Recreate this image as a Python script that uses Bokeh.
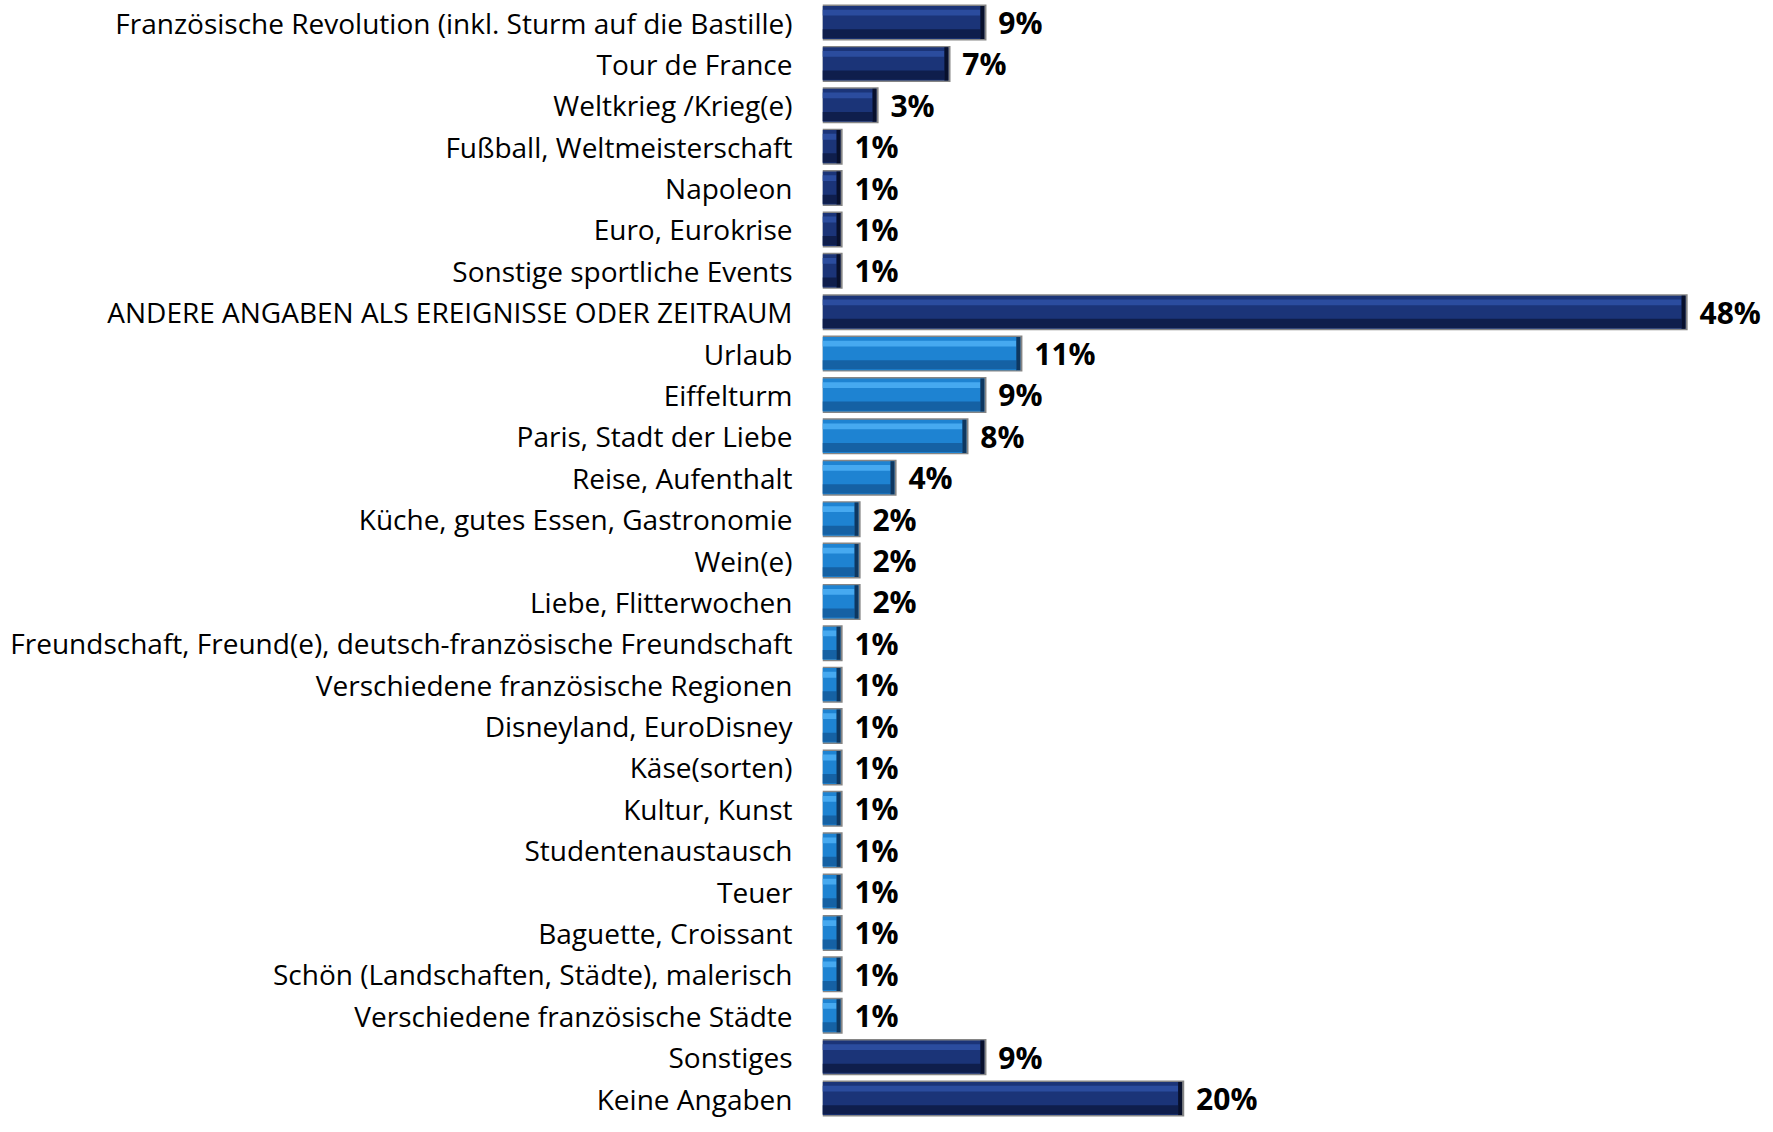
from bokeh.plotting import figure
from bokeh.models import FixedTicker, ColumnDataSource, Range1d, LabelSet
from bokeh.core.properties import value
from bokeh.embed import file_html
from bokeh.resources import INLINE

categories = [
    "Französische Revolution (inkl. Sturm auf die Bastille)",
    "Tour de France",
    "Weltkrieg /Krieg(e)",
    "Fußball, Weltmeisterschaft",
    "Napoleon",
    "Euro, Eurokrise",
    "Sonstige sportliche Events",
    "ANDERE ANGABEN ALS EREIGNISSE ODER ZEITRAUM",
    "Urlaub",
    "Eiffelturm",
    "Paris, Stadt der Liebe",
    "Reise, Aufenthalt",
    "Küche, gutes Essen, Gastronomie",
    "Wein(e)",
    "Liebe, Flitterwochen",
    "Freundschaft, Freund(e), deutsch-französische Freundschaft",
    "Verschiedene französische Regionen",
    "Disneyland, EuroDisney",
    "Käse(sorten)",
    "Kultur, Kunst",
    "Studentenaustausch",
    "Teuer",
    "Baguette, Croissant",
    "Schön (Landschaften, Städte), malerisch",
    "Verschiedene französische Städte",
    "Sonstiges",
    "Keine Angaben",
]
values = [9, 7, 3, 1, 1, 1, 1, 48, 11, 9, 8, 4, 2, 2, 2, 1, 1, 1, 1, 1, 1, 1, 1, 1, 1, 9, 20]
groups = ["dark"] * 8 + ["light"] * 17 + ["dark"] * 2

n = len(categories)
ys = [n - 1 - i for i in range(n)]

palette = {
    "dark": dict(main="#1B3478", hi="#2B4C9E", lo="#0F1E4C", cap="#08102C"),
    "light": dict(main="#1E83D2", hi="#46A9F0", lo="#1561A4", cap="#0E3760"),
}

src = ColumnDataSource(dict(
    y=ys,
    v=values,
    lab=[f"{v}%" for v in values],
    main=[palette[g]["main"] for g in groups],
    hi=[palette[g]["hi"] for g in groups],
    lo=[palette[g]["lo"] for g in groups],
    cap=[palette[g]["cap"] for g in groups],
    y_hi=[y + 0.24 for y in ys],
    y_lo=[y - 0.27 for y in ys],
    v_shadow=[v + 0.12 for v in values],
    v_cap=[max(v - 0.22, 0) for v in values],
))

p = figure(
    width=1765, height=1124,
    output_backend="svg", toolbar_location=None,
    x_range=Range1d(0, 52.45), y_range=Range1d(-0.628, n - 1 + 0.532),
    min_border_left=822, min_border_right=0, min_border_top=0, min_border_bottom=0,
)

# shadow / outline
p.hbar(y="y", left=0, right="v_shadow", height=0.87, source=src,
       fill_color="#858585", line_color=None)
# main body
p.hbar(y="y", left=0, right="v", height=0.80, source=src,
       fill_color="main", line_color=None)
# upper highlight
p.hbar(y="y_hi", left=0, right="v_cap", height=0.14, source=src,
       fill_color="hi", line_color=None)
# lower shade
p.hbar(y="y_lo", left=0, right="v_cap", height=0.22, source=src,
       fill_color="lo", line_color=None)
# right end cap
p.hbar(y="y", left="v_cap", right="v", height=0.80, source=src,
       fill_color="cap", line_color=None)

labels = LabelSet(x="v", y="y", text="lab", source=src, x_offset=14,
                  text_align="left", text_baseline="middle",
                  text_font=value("Open Sans"), text_font_style="bold",
                  text_font_size=value("30px"), text_color="#000000")
p.add_layout(labels)

p.xaxis.visible = False
p.xgrid.visible = False
p.ygrid.visible = False
p.outline_line_color = None

ax = p.yaxis[0]
ax.ticker = FixedTicker(ticks=ys)
ax.major_label_overrides = {y: c for y, c in zip(ys, categories)}
ax.axis_line_color = None
ax.major_tick_line_color = None
ax.minor_tick_line_color = None
ax.major_label_standoff = 24
ax.major_label_text_font = "Open Sans"
ax.major_label_text_font_size = "28px"
ax.major_label_text_color = "#000000"

open("out.html", "w").write(file_html(p, INLINE))
